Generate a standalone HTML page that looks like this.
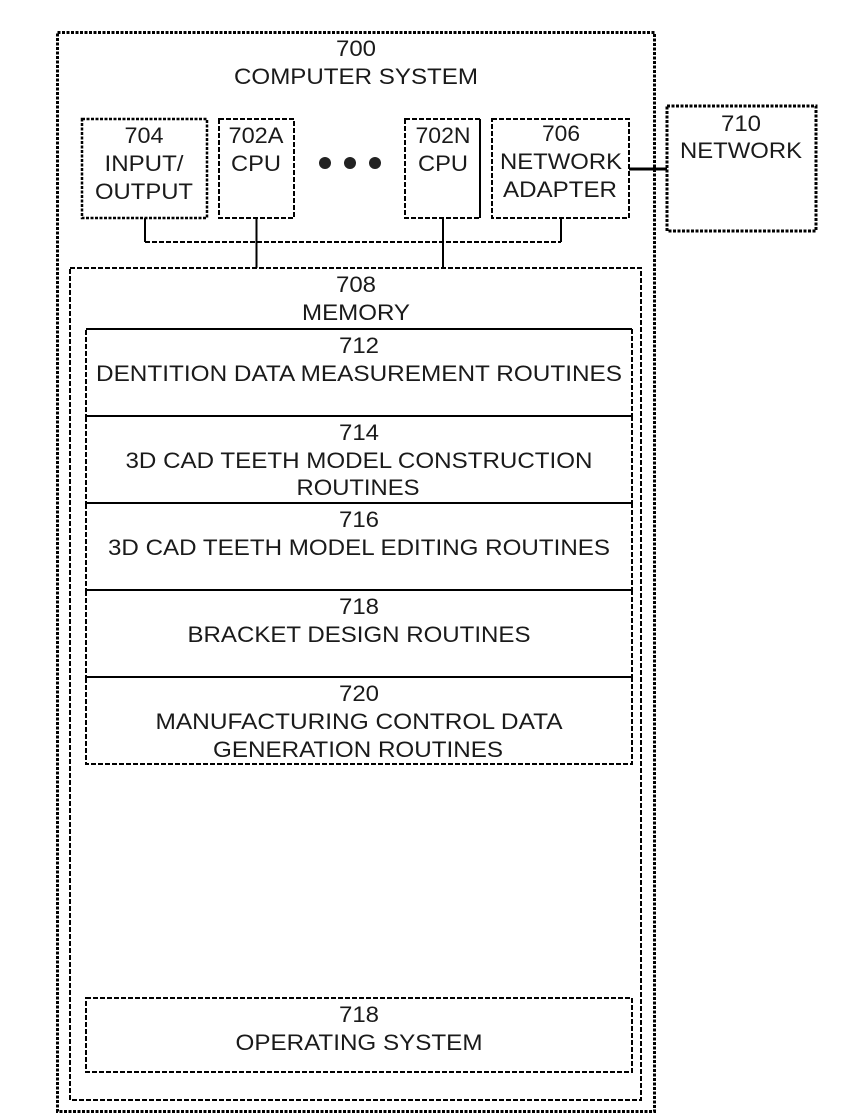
<!DOCTYPE html>
<html><head><meta charset="utf-8"><style>
html,body{margin:0;padding:0;background:#fff;width:842px;height:1120px;overflow:hidden}
svg{display:block}
text{font-family:"Liberation Sans",sans-serif;font-size:22.5px;fill:#1a1a1a;text-anchor:middle}
.b{fill:none;stroke:#000;stroke-width:2;stroke-dasharray:5 2}
.o{fill:none;stroke:#000;stroke-width:3;stroke-dasharray:3 1.500}
.l{fill:none;stroke:#000;stroke-width:2}
</style></head><body>
<svg width="842" height="1120" viewBox="0 0 842 1120" xmlns="http://www.w3.org/2000/svg">
<rect class="o" x="57.5" y="32.5" width="597" height="1079"/>
<rect class="b" x="70" y="268" width="571" height="832"/>
<rect class="o" x="82" y="119" width="125" height="99" style="stroke-width:2.500"/>
<rect class="b" x="219" y="119" width="75" height="99"/>
<rect class="b" x="405" y="119" width="75" height="99"/>
<path class="l" d="M480 119V218" stroke-width="2.500"/>
<rect class="b" x="492" y="119" width="137" height="99"/>
<rect class="o" x="667" y="106" width="149" height="125"/>
<rect class="b" x="86" y="329" width="546" height="87"/>
<path class="l" d="M86 329H632"/>
<rect class="b" x="86" y="416" width="546" height="87"/>
<rect class="b" x="86" y="503" width="546" height="87"/>
<rect class="b" x="86" y="590" width="546" height="87"/>
<path class="l" d="M86 677H632"/>
<rect class="b" x="86" y="677" width="546" height="87"/>
<rect class="b" x="86" y="998" width="546" height="74"/>
<path class="l" d="M145 218V242M256.500 218V268M443 218V268M561 218V242"/>
<path class="b" d="M145 242H561"/>
<path class="l" d="M629 169H667" style="stroke-width:3"/>
<circle cx="325" cy="163" r="6" fill="#222"/><circle cx="350" cy="163" r="6" fill="#222"/><circle cx="375" cy="163" r="6" fill="#222"/>
<text lengthAdjust="spacingAndGlyphs" x="356" y="56" textLength="40">700</text>
<text lengthAdjust="spacingAndGlyphs" x="356" y="84" textLength="244">COMPUTER SYSTEM</text>
<text lengthAdjust="spacingAndGlyphs" x="144" y="143" textLength="39">704</text>
<text lengthAdjust="spacingAndGlyphs" x="144" y="171" textLength="79">INPUT/</text>
<text lengthAdjust="spacingAndGlyphs" x="144" y="199" textLength="98">OUTPUT</text>
<text lengthAdjust="spacingAndGlyphs" x="256" y="143" textLength="55">702A</text>
<text lengthAdjust="spacingAndGlyphs" x="256" y="171" textLength="50">CPU</text>
<text lengthAdjust="spacingAndGlyphs" x="443" y="143" textLength="55">702N</text>
<text lengthAdjust="spacingAndGlyphs" x="443" y="171" textLength="50">CPU</text>
<text lengthAdjust="spacingAndGlyphs" x="561" y="141" textLength="38">706</text>
<text lengthAdjust="spacingAndGlyphs" x="561" y="169" textLength="122">NETWORK</text>
<text lengthAdjust="spacingAndGlyphs" x="560" y="197" textLength="114">ADAPTER</text>
<text lengthAdjust="spacingAndGlyphs" x="741" y="131" textLength="40">710</text>
<text lengthAdjust="spacingAndGlyphs" x="741" y="158" textLength="122">NETWORK</text>
<text lengthAdjust="spacingAndGlyphs" x="356" y="292" textLength="40">708</text>
<text lengthAdjust="spacingAndGlyphs" x="356" y="320" textLength="108">MEMORY</text>
<text lengthAdjust="spacingAndGlyphs" x="359" y="353" textLength="40">712</text>
<text lengthAdjust="spacingAndGlyphs" x="359" y="381" textLength="526">DENTITION DATA MEASUREMENT ROUTINES</text>
<text lengthAdjust="spacingAndGlyphs" x="359" y="440" textLength="40">714</text>
<text lengthAdjust="spacingAndGlyphs" x="359" y="468" textLength="467">3D CAD TEETH MODEL CONSTRUCTION</text>
<text lengthAdjust="spacingAndGlyphs" x="358" y="495" textLength="123">ROUTINES</text>
<text lengthAdjust="spacingAndGlyphs" x="359" y="527" textLength="40">716</text>
<text lengthAdjust="spacingAndGlyphs" x="359" y="555" textLength="502">3D CAD TEETH MODEL EDITING ROUTINES</text>
<text lengthAdjust="spacingAndGlyphs" x="359" y="614" textLength="40">718</text>
<text lengthAdjust="spacingAndGlyphs" x="359" y="642" textLength="343">BRACKET DESIGN ROUTINES</text>
<text lengthAdjust="spacingAndGlyphs" x="359" y="701" textLength="40">720</text>
<text lengthAdjust="spacingAndGlyphs" x="359" y="729" textLength="407">MANUFACTURING CONTROL DATA</text>
<text lengthAdjust="spacingAndGlyphs" x="358" y="757" textLength="290">GENERATION ROUTINES</text>
<text lengthAdjust="spacingAndGlyphs" x="359" y="1022" textLength="40">718</text>
<text lengthAdjust="spacingAndGlyphs" x="359" y="1050" textLength="247">OPERATING SYSTEM</text>
</svg>
</body></html>
